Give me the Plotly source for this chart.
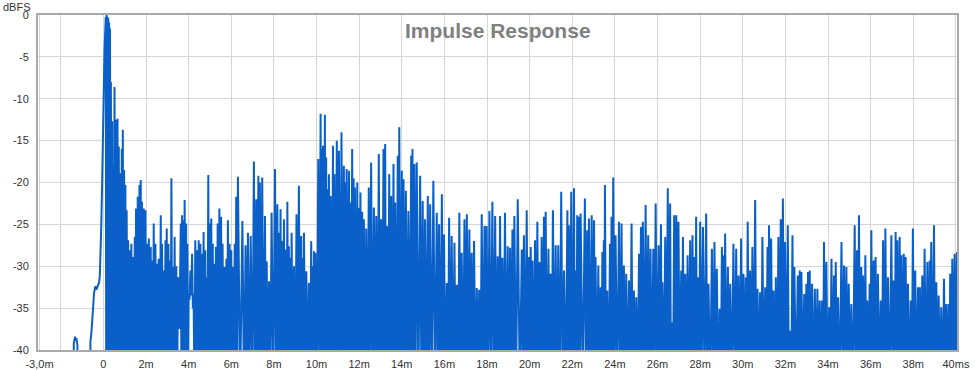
import plotly.graph_objects as go

# ---------------- data ----------------
# smooth pre-impulse part (time in ms, level in dBFS)
pre_ms = [-3.07, -1.40, -1.39, -1.36, -1.33, -1.30, -1.27, -1.22, -1.21,
          -0.62, -0.61, -0.56, -0.52, -0.48, -0.44, -0.40, -0.37, -0.33,
          -0.28, -0.24, -0.20, -0.17, -0.14, -0.11, -0.06, -0.01, 0.05]
pre_db = [-45, -45, -39.2, -38.6, -38.4, -38.9, -38.6, -39.4, -45,
          -45, -39.0, -37.8, -36.0, -33.9, -33.2, -32.6, -32.4, -32.8,
          -32.5, -32.2, -31.9, -31.1, -29.0, -26.0, -20.0, -12.0, -4.2]

# local peaks of the impulse response, segment by segment
seg1_ms = [0.11, 0.15, 0.19, 0.23, 0.27, 0.31, 0.35, 0.41, 0.46, 0.52, 0.59, 0.66, 0.72,
           0.80, 0.86, 0.91, 0.97, 1.03, 1.09, 1.16, 1.23, 1.31, 1.39, 1.47, 1.53, 1.61,
           1.69, 1.75, 1.81, 1.89, 1.97, 2.05, 2.13, 2.22, 2.28, 2.36, 2.44, 2.50, 2.59,
           2.69, 2.75, 2.83, 2.91, 2.97, 3.05, 3.11, 3.19, 3.27, 3.34, 3.42, 3.50, 3.63,
           3.69, 3.75, 3.81, 3.88, 3.94, 4.00, 4.08, 4.16, 4.23, 4.31, 4.39, 4.47, 4.55,
           4.63, 4.70, 4.78, 4.84, 4.92, 4.98, 5.06, 5.13, 5.20, 5.28, 5.36, 5.44, 5.52,
           5.59, 5.69, 5.77, 5.84, 5.92, 6.00, 6.08, 6.16, 6.23, 6.31]
seg1_db = [-0.2, 0.0, -0.2, -0.4, -0.9, -1.6, -8.0, -12.7, -18.0, -8.6, -12.5, -12.4, -15.7,
           -18.9, -16.0, -13.7, -18.5, -20.3, -23.3, -26.9, -28.1, -27.3, -28.9, -26.5, -23.1, -21.7,
           -20.3, -19.7, -22.3, -23.1, -23.3, -27.3, -26.7, -27.7, -29.3, -24.9, -27.3, -29.7, -29.1,
           -23.9, -27.3, -30.5, -26.9, -25.5, -27.3, -29.3, -19.5, -30.1, -26.5, -30.0, -31.3, -24.9,
           -23.9, -24.5, -22.1, -24.9, -27.3, -33.3, -30.5, -28.5, -33.3, -26.9, -28.1, -26.9, -27.3,
           -28.5, -25.9, -28.1, -31.3, -19.1, -24.9, -24.3, -27.3, -29.7, -27.7, -24.9, -23.1, -24.1,
           -27.3, -30.1, -29.1, -24.5, -27.3, -28.1, -30.1, -27.3, -21.7, -19.3]

seg2_ms = [6.52, 6.67, 6.78, 6.91, 7.06, 7.17, 7.27, 7.34, 7.45, 7.58, 7.66, 7.77, 7.89,
           8.05, 8.16, 8.24, 8.31, 8.39, 8.47, 8.55, 8.63, 8.70, 8.77, 8.83, 8.94, 9.06,
           9.17, 9.28, 9.35, 9.41, 9.52, 9.64, 9.75, 9.81, 9.88, 9.95, 10.08, 10.19, 10.25,
           10.30, 10.39, 10.45, 10.50, 10.58, 10.66, 10.77, 10.84, 10.95, 11.05, 11.17, 11.28,
           11.35, 11.41, 11.52, 11.59, 11.67, 11.74, 11.80, 11.91, 11.98, 12.06, 12.14, 12.22,
           12.33, 12.45, 12.56, 12.69, 12.80, 12.92]
seg2_db = [-24.6, -27.5, -26.0, -26.4, -17.5, -22.0, -19.2, -20.0, -19.4, -24.0, -29.4, -31.8, -23.6,
           -18.4, -22.6, -26.0, -23.2, -27.0, -24.4, -28.0, -22.3, -27.6, -29.0, -26.0, -30.0, -23.8,
           -20.4, -26.4, -29.0, -26.0, -30.6, -32.0, -27.0, -30.0, -28.2, -28.4, -17.2, -11.8, -16.0,
           -15.6, -11.9, -17.0, -20.8, -19.0, -21.6, -15.6, -19.0, -15.0, -16.2, -14.0, -18.0,
           -20.0, -18.4, -18.6, -22.4, -16.0, -19.5, -20.6, -20.0, -23.0, -21.2, -23.5, -24.4,
           -25.5, -20.6, -17.6, -23.0, -24.0, -16.6]

seg3_ms = [13.03, 13.14, 13.22, 13.30, 13.41, 13.50, 13.61, 13.69, 13.81, 13.88, 14.00, 14.08,
           14.19, 14.31, 14.44, 14.50, 14.59, 14.70, 14.86, 14.98, 15.09, 15.22, 15.33, 15.48,
           15.64, 15.75, 15.88, 15.98, 16.11, 16.22, 16.34, 16.47, 16.58, 16.70, 16.81, 16.94,
           17.05, 17.17, 17.28, 17.39, 17.52, 17.63, 17.75, 17.88, 17.98, 18.11, 18.25, 18.38,
           18.50, 18.61, 18.72, 18.84, 18.97, 19.08, 19.19, 19.28, 19.44]
seg3_db = [-24.4, -16.0, -15.4, -25.2, -19.0, -21.6, -17.8, -22.4, -16.8, -13.4, -18.6, -19.6,
           -21.0, -23.4, -16.8, -16.0, -17.8, -17.6, -19.2, -22.2, -24.4, -21.6, -22.6, -19.8,
           -23.6, -25.0, -21.4, -26.2, -32.0, -24.2, -26.4, -27.2, -32.2, -23.6, -28.4, -24.4,
           -23.8, -25.6, -28.4, -27.0, -32.6, -32.8, -23.8, -25.2, -25.2, -23.4, -22.3, -24.0,
           -28.8, -24.0, -29.0, -23.6, -27.6, -27.8, -25.6, -24.0, -22.0]

seg4_ms = [19.63, 19.73, 19.86, 19.97, 20.05, 20.13, 20.25, 20.36, 20.47, 20.56, 20.67, 20.75,
           20.88, 20.98, 21.09, 21.22, 21.34, 21.48, 21.61, 21.77, 21.84, 21.95, 22.08, 22.16,
           22.23, 22.31, 22.39, 22.59, 22.70, 22.78, 22.91, 23.02, 23.09, 23.22, 23.33, 23.41,
           23.48, 23.53, 23.64, 23.77, 23.84, 23.92, 24.03, 24.19, 24.31, 24.42, 24.53, 24.66,
           24.78, 24.89, 25.00, 25.13, 25.22, 25.31, 25.44, 25.56, 25.67, 25.80, 25.91]
seg4_db = [-28.0, -26.3, -23.3, -28.9, -27.7, -29.3, -26.9, -24.7, -29.5, -26.5, -24.1, -23.5,
           -27.9, -30.9, -23.3, -27.5, -27.5, -21.1, -30.5, -23.3, -25.1, -21.1, -20.7, -30.5,
           -23.9, -24.1, -23.7, -21.9, -25.7, -24.3, -23.9, -24.5, -28.9, -29.9, -32.5, -28.3,
           -26.9, -20.3, -32.9, -27.3, -24.1, -19.4, -26.3, -24.7, -24.9, -29.9, -30.9, -31.7,
           -24.9, -32.9, -33.7, -28.5, -25.3, -24.7, -22.7, -26.3, -27.9, -27.9, -22.5]

seg5_ms = [26.05, 26.16, 26.23, 26.36, 26.48, 26.59, 26.67, 26.78, 26.88, 26.98, 27.11, 27.19,
           27.30, 27.41, 27.53, 27.64, 27.73, 27.81, 27.89, 28.00, 28.13, 28.28, 28.39, 28.55,
           28.67, 28.78, 28.91, 29.02, 29.09, 29.17, 29.30, 29.41, 29.56, 29.69, 29.80, 29.92,
           30.03, 30.14, 30.23, 30.34, 30.45, 30.58, 30.69, 30.81, 30.92, 31.05, 31.16, 31.23,
           31.33, 31.44, 31.55, 31.67, 31.78, 31.88, 31.98, 32.11, 32.22, 32.33, 32.42, 32.58]
seg5_db = [-27.5, -25.0, -31.9, -26.5, -20.7, -22.5, -36.7, -23.9, -23.9, -24.7, -30.5, -26.5,
           -30.9, -28.7, -26.9, -26.3, -28.9, -24.1, -31.3, -24.7, -25.3, -23.7, -32.1, -27.9,
           -27.1, -30.3, -35.1, -27.7, -28.7, -26.1, -30.1, -32.1, -27.3, -27.9, -31.1, -26.7,
           -30.9, -31.3, -24.7, -30.5, -27.7, -22.1, -32.7, -33.1, -26.5, -32.5, -27.7, -25.1,
           -26.7, -32.9, -31.3, -26.5, -24.4, -21.9, -27.1, -25.1, -37.7, -26.3, -30.1, -31.1]

seg6_ms = [32.67, 32.75, 32.88, 32.98, 33.06, 33.14, 33.25, 33.38, 33.50, 33.61, 33.72, 33.81,
           33.92, 34.05, 34.16, 34.28, 34.36, 34.47, 34.63, 34.75, 34.86, 34.97, 35.09, 35.25,
           35.36, 35.45, 35.56, 35.64, 35.75, 35.84, 35.95, 36.03, 36.14, 36.23, 36.34, 36.47,
           36.58, 36.69, 36.81, 36.97, 37.08, 37.17, 37.25, 37.36, 37.44, 37.55, 37.64, 37.75,
           37.88, 37.98, 38.09, 38.22, 38.31, 38.42, 38.53, 38.66, 38.77, 38.84, 38.97, 39.08,
           39.19, 39.31, 39.44, 39.55, 39.66, 39.73, 39.83, 39.94, 40.05]
seg6_db = [-30.5, -30.7, -33.3, -32.1, -30.7, -30.5, -32.1, -32.7, -32.7, -34.1, -34.1, -27.1,
           -29.5, -34.9, -29.1, -31.1, -29.5, -33.7, -27.1, -29.9, -30.1, -32.1, -34.5, -25.1,
           -28.1, -23.9, -30.1, -31.1, -28.7, -34.1, -32.1, -25.7, -29.3, -28.9, -30.9, -34.1,
           -26.9, -25.5, -31.3, -26.3, -31.7, -25.9, -26.9, -26.5, -28.7, -28.5, -28.9, -32.1,
           -34.1, -25.5, -30.5, -32.5, -32.5, -31.1, -27.9, -29.5, -29.3, -27.1, -25.1, -31.9,
           -33.5, -34.9, -31.5, -34.5, -34.5, -30.9, -29.1, -28.5, -28.3]

# troughs between peaks fall below the -40 dB floor, except these shallow ones
trough_floor_db = -45
shallow_ms = [3.57, 4.04, 4.12, 4.20]
shallow_db = [-37.5, -34.0, -33.5, -35.0]

x_ticks = [-3, -2, 0, 2, 4, 6, 8, 10, 12, 14, 16, 18, 20, 22, 24, 26, 28, 30, 32, 34, 36, 38, 40]
x_labels = ["-3,0m", "", "0", "2m", "4m", "6m", "8m", "10m", "12m", "14m", "16m", "18m", "20m",
            "22m", "24m", "26m", "28m", "30m", "32m", "34m", "36m", "38m", "40ms"]
y_ticks = [0, -5, -10, -15, -20, -25, -30, -35, -40]
y_labels = ["0", "-5", "-10", "-15", "-20", "-25", "-30", "-35", "-40"]

# ---------------- build the polyline ----------------
peak_ms = seg1_ms + seg2_ms + seg3_ms + seg4_ms + seg5_ms + seg6_ms
peak_db = seg1_db + seg2_db + seg3_db + seg4_db + seg5_db + seg6_db

xs = list(pre_ms)
ys = list(pre_db)
for i, (t, v) in enumerate(zip(peak_ms, peak_db)):
    xs.append(t)
    ys.append(v)
    if i + 1 < len(peak_ms):
        t2 = peak_ms[i + 1]
        lvl = trough_floor_db
        for s, d in zip(shallow_ms, shallow_db):
            if t < s <= t2:
                lvl = d
        xs.append((t + t2) / 2)
        ys.append(lvl)

BLUE = "#0a60c8"
FONT = "Liberation Sans, Arial, sans-serif"

fig = go.Figure()
fig.add_trace(go.Scatter(x=xs, y=ys, mode="lines",
                         line=dict(color=BLUE, width=2.0),
                         hoverinfo="skip", showlegend=False))

fig.update_layout(
    width=975, height=370,
    margin=dict(l=38, r=18, t=15, b=20, autoexpand=False),
    paper_bgcolor="white", plot_bgcolor="white",
    font=dict(family=FONT, size=11, color="#333333"),
    showlegend=False,
    xaxis=dict(range=[-3.07, 40.05], tickmode="array", tickvals=x_ticks, ticktext=x_labels,
               showgrid=True, gridcolor="#d6d6d6", gridwidth=1, zeroline=False,
               showline=True, linecolor="#a9a9a9", linewidth=2, mirror=True,
               automargin=False,
               ticks="", ticklabelstandoff=3, tickfont=dict(size=11, color="#333333")),
    yaxis=dict(range=[-40, 0], tickmode="array", tickvals=y_ticks, ticktext=y_labels,
               showgrid=True, gridcolor="#d6d6d6", gridwidth=1, zeroline=False,
               showline=True, linecolor="#a9a9a9", linewidth=2, mirror=True,
               automargin=False,
               ticks="", ticklabelstandoff=5, tickfont=dict(size=11, color="#333333")),
    annotations=[
        dict(text="<b>Impulse Response</b>", xref="paper", yref="paper", x=0.5, y=0.955,
             xanchor="center", yanchor="middle", showarrow=False,
             font=dict(family=FONT, size=21, color="#808080")),
        dict(text="dBFS", xref="paper", yref="paper", x=-0.039, y=1.045,
             xanchor="left", yanchor="top", showarrow=False, borderpad=0,
             font=dict(family=FONT, size=11, color="#333333")),
    ],
)

# remove the browser's default 8px page margin so the figure sits at the window origin
fig.write_html("out.html", config={"displayModeBar": False},
               post_script="document.body.style.margin='0';")
